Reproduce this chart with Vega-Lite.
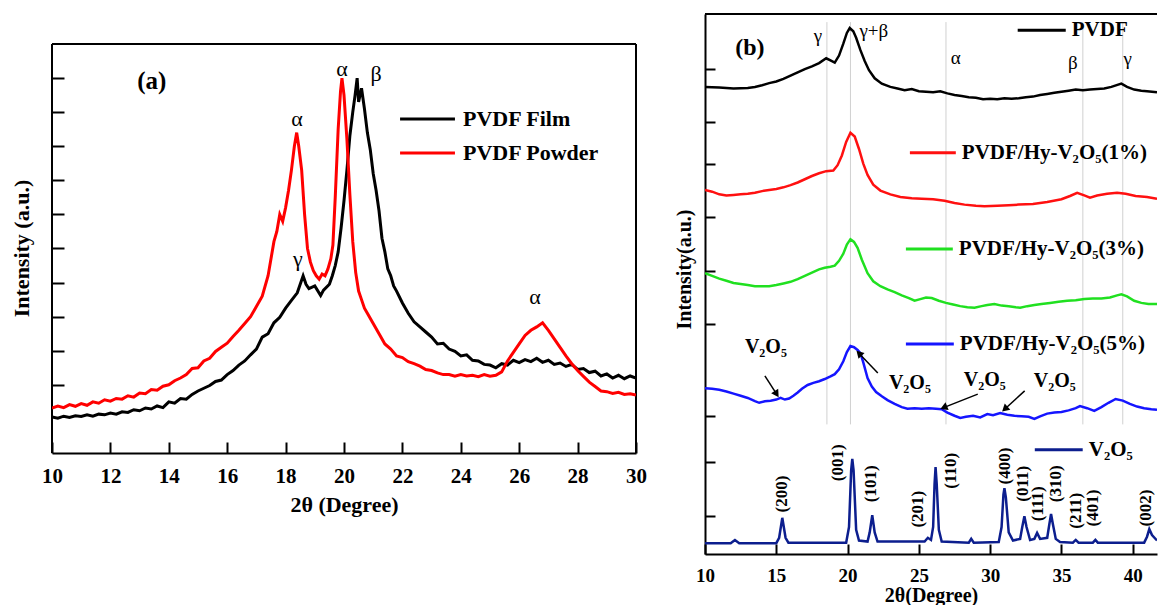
{
"$schema": "https://vega.github.io/schema/vega-lite/v6.json",
"background": "white",
"padding": {"left": 10, "top": 13, "right": 0, "bottom": 0},
"config": {
  "font": "Liberation Serif",
  "view": {"stroke": null},
  "axis": {"grid": false, "domainColor": "black", "tickColor": "black", "labelColor": "black", "titleColor": "black", "labelFont": "Liberation Serif", "titleFont": "Liberation Serif", "labelFontWeight": "bold", "titleFontWeight": "bold", "labelFlush": false},
  "concat": {"spacing": 27}
},
"resolve": {"scale": {"color": "independent"}},
"datasets": {
  "a": [
    {"series":"PVDF Film","x":10.0,"y":1.06},{"series":"PVDF Film","x":10.2,"y":1.02},{"series":"PVDF Film","x":10.4,"y":1.08},{"series":"PVDF Film","x":10.6,"y":1.04},{"series":"PVDF Film","x":10.8,"y":1.09},{"series":"PVDF Film","x":11.0,"y":1.07},{"series":"PVDF Film","x":11.2,"y":1.12},{"series":"PVDF Film","x":11.4,"y":1.08},{"series":"PVDF Film","x":11.6,"y":1.14},{"series":"PVDF Film","x":11.8,"y":1.12},{"series":"PVDF Film","x":12.0,"y":1.17},{"series":"PVDF Film","x":12.2,"y":1.14},{"series":"PVDF Film","x":12.4,"y":1.21},{"series":"PVDF Film","x":12.6,"y":1.19},{"series":"PVDF Film","x":12.8,"y":1.27},{"series":"PVDF Film","x":13.0,"y":1.24},{"series":"PVDF Film","x":13.2,"y":1.32},{"series":"PVDF Film","x":13.4,"y":1.29},{"series":"PVDF Film","x":13.6,"y":1.38},{"series":"PVDF Film","x":13.8,"y":1.33},{"series":"PVDF Film","x":14.0,"y":1.5},{"series":"PVDF Film","x":14.2,"y":1.46},{"series":"PVDF Film","x":14.4,"y":1.6},{"series":"PVDF Film","x":14.6,"y":1.58},{"series":"PVDF Film","x":14.8,"y":1.72},{"series":"PVDF Film","x":15.0,"y":1.82},{"series":"PVDF Film","x":15.2,"y":1.9},{"series":"PVDF Film","x":15.4,"y":1.98},{"series":"PVDF Film","x":15.6,"y":2.1},{"series":"PVDF Film","x":15.8,"y":2.14},{"series":"PVDF Film","x":16.0,"y":2.3},{"series":"PVDF Film","x":16.2,"y":2.42},{"series":"PVDF Film","x":16.4,"y":2.58},{"series":"PVDF Film","x":16.6,"y":2.7},{"series":"PVDF Film","x":16.8,"y":2.88},{"series":"PVDF Film","x":17.0,"y":3.05},{"series":"PVDF Film","x":17.2,"y":3.4},{"series":"PVDF Film","x":17.4,"y":3.5},{"series":"PVDF Film","x":17.6,"y":3.82},{"series":"PVDF Film","x":17.8,"y":3.98},{"series":"PVDF Film","x":18.0,"y":4.25},{"series":"PVDF Film","x":18.2,"y":4.48},{"series":"PVDF Film","x":18.4,"y":4.7},{"series":"PVDF Film","x":18.6,"y":5.2},{"series":"PVDF Film","x":18.7,"y":4.95},{"series":"PVDF Film","x":18.8,"y":4.82},{"series":"PVDF Film","x":19.0,"y":4.9},{"series":"PVDF Film","x":19.2,"y":4.62},{"series":"PVDF Film","x":19.3,"y":4.78},{"series":"PVDF Film","x":19.5,"y":4.95},{"series":"PVDF Film","x":19.6,"y":5.2},{"series":"PVDF Film","x":19.7,"y":5.5},{"series":"PVDF Film","x":19.8,"y":5.9},{"series":"PVDF Film","x":19.9,"y":6.6},{"series":"PVDF Film","x":20.0,"y":7.4},{"series":"PVDF Film","x":20.1,"y":8.3},{"series":"PVDF Film","x":20.2,"y":9.3},{"series":"PVDF Film","x":20.3,"y":10.0},{"series":"PVDF Film","x":20.38,"y":10.5},{"series":"PVDF Film","x":20.45,"y":11.0},{"series":"PVDF Film","x":20.5,"y":10.3},{"series":"PVDF Film","x":20.6,"y":10.7},{"series":"PVDF Film","x":20.7,"y":10.1},{"series":"PVDF Film","x":20.8,"y":9.4},{"series":"PVDF Film","x":20.9,"y":8.9},{"series":"PVDF Film","x":21.0,"y":8.2},{"series":"PVDF Film","x":21.1,"y":7.7},{"series":"PVDF Film","x":21.2,"y":7.1},{"series":"PVDF Film","x":21.3,"y":6.3},{"series":"PVDF Film","x":21.4,"y":5.9},{"series":"PVDF Film","x":21.5,"y":5.4},{"series":"PVDF Film","x":21.6,"y":5.2},{"series":"PVDF Film","x":21.7,"y":4.9},{"series":"PVDF Film","x":21.8,"y":4.75},{"series":"PVDF Film","x":22.0,"y":4.4},{"series":"PVDF Film","x":22.2,"y":4.1},{"series":"PVDF Film","x":22.4,"y":3.85},{"series":"PVDF Film","x":22.6,"y":3.7},{"series":"PVDF Film","x":22.8,"y":3.55},{"series":"PVDF Film","x":23.0,"y":3.4},{"series":"PVDF Film","x":23.2,"y":3.2},{"series":"PVDF Film","x":23.4,"y":3.22},{"series":"PVDF Film","x":23.6,"y":3.05},{"series":"PVDF Film","x":23.8,"y":2.98},{"series":"PVDF Film","x":24.0,"y":2.85},{"series":"PVDF Film","x":24.2,"y":2.88},{"series":"PVDF Film","x":24.4,"y":2.72},{"series":"PVDF Film","x":24.6,"y":2.7},{"series":"PVDF Film","x":24.8,"y":2.6},{"series":"PVDF Film","x":25.0,"y":2.58},{"series":"PVDF Film","x":25.2,"y":2.5},{"series":"PVDF Film","x":25.4,"y":2.62},{"series":"PVDF Film","x":25.6,"y":2.58},{"series":"PVDF Film","x":25.8,"y":2.72},{"series":"PVDF Film","x":26.0,"y":2.65},{"series":"PVDF Film","x":26.2,"y":2.74},{"series":"PVDF Film","x":26.4,"y":2.68},{"series":"PVDF Film","x":26.6,"y":2.78},{"series":"PVDF Film","x":26.8,"y":2.66},{"series":"PVDF Film","x":27.0,"y":2.72},{"series":"PVDF Film","x":27.2,"y":2.6},{"series":"PVDF Film","x":27.4,"y":2.64},{"series":"PVDF Film","x":27.6,"y":2.54},{"series":"PVDF Film","x":27.8,"y":2.6},{"series":"PVDF Film","x":28.0,"y":2.45},{"series":"PVDF Film","x":28.2,"y":2.48},{"series":"PVDF Film","x":28.4,"y":2.36},{"series":"PVDF Film","x":28.6,"y":2.4},{"series":"PVDF Film","x":28.8,"y":2.26},{"series":"PVDF Film","x":29.0,"y":2.32},{"series":"PVDF Film","x":29.2,"y":2.2},{"series":"PVDF Film","x":29.4,"y":2.28},{"series":"PVDF Film","x":29.6,"y":2.18},{"series":"PVDF Film","x":29.8,"y":2.26},{"series":"PVDF Film","x":30.0,"y":2.2},
    {"series":"PVDF Powder","x":10.0,"y":1.32},{"series":"PVDF Powder","x":10.2,"y":1.38},{"series":"PVDF Powder","x":10.4,"y":1.33},{"series":"PVDF Powder","x":10.6,"y":1.42},{"series":"PVDF Powder","x":10.8,"y":1.37},{"series":"PVDF Powder","x":11.0,"y":1.45},{"series":"PVDF Powder","x":11.2,"y":1.4},{"series":"PVDF Powder","x":11.4,"y":1.5},{"series":"PVDF Powder","x":11.6,"y":1.46},{"series":"PVDF Powder","x":11.8,"y":1.56},{"series":"PVDF Powder","x":12.0,"y":1.52},{"series":"PVDF Powder","x":12.2,"y":1.6},{"series":"PVDF Powder","x":12.4,"y":1.58},{"series":"PVDF Powder","x":12.6,"y":1.68},{"series":"PVDF Powder","x":12.8,"y":1.64},{"series":"PVDF Powder","x":13.0,"y":1.76},{"series":"PVDF Powder","x":13.2,"y":1.74},{"series":"PVDF Powder","x":13.4,"y":1.86},{"series":"PVDF Powder","x":13.6,"y":1.84},{"series":"PVDF Powder","x":13.8,"y":1.96},{"series":"PVDF Powder","x":14.0,"y":2.0},{"series":"PVDF Powder","x":14.2,"y":2.12},{"series":"PVDF Powder","x":14.4,"y":2.2},{"series":"PVDF Powder","x":14.6,"y":2.3},{"series":"PVDF Powder","x":14.8,"y":2.48},{"series":"PVDF Powder","x":15.0,"y":2.5},{"series":"PVDF Powder","x":15.2,"y":2.7},{"series":"PVDF Powder","x":15.4,"y":2.78},{"series":"PVDF Powder","x":15.6,"y":2.98},{"series":"PVDF Powder","x":15.8,"y":3.1},{"series":"PVDF Powder","x":16.0,"y":3.22},{"series":"PVDF Powder","x":16.2,"y":3.42},{"series":"PVDF Powder","x":16.4,"y":3.6},{"series":"PVDF Powder","x":16.6,"y":3.8},{"series":"PVDF Powder","x":16.8,"y":4.0},{"series":"PVDF Powder","x":17.0,"y":4.3},{"series":"PVDF Powder","x":17.2,"y":4.6},{"series":"PVDF Powder","x":17.4,"y":5.2},{"series":"PVDF Powder","x":17.6,"y":6.2},{"series":"PVDF Powder","x":17.7,"y":6.5},{"series":"PVDF Powder","x":17.8,"y":7.0},{"series":"PVDF Powder","x":17.9,"y":6.8},{"series":"PVDF Powder","x":18.0,"y":7.2},{"series":"PVDF Powder","x":18.1,"y":7.7},{"series":"PVDF Powder","x":18.2,"y":8.3},{"series":"PVDF Powder","x":18.3,"y":9.0},{"series":"PVDF Powder","x":18.38,"y":9.4},{"series":"PVDF Powder","x":18.45,"y":9.0},{"series":"PVDF Powder","x":18.55,"y":8.3},{"series":"PVDF Powder","x":18.65,"y":7.0},{"series":"PVDF Powder","x":18.75,"y":6.0},{"series":"PVDF Powder","x":18.85,"y":5.6},{"series":"PVDF Powder","x":18.95,"y":5.35},{"series":"PVDF Powder","x":19.05,"y":5.2},{"series":"PVDF Powder","x":19.15,"y":5.1},{"series":"PVDF Powder","x":19.25,"y":5.25},{"series":"PVDF Powder","x":19.35,"y":5.2},{"series":"PVDF Powder","x":19.45,"y":5.4},{"series":"PVDF Powder","x":19.55,"y":5.7},{"series":"PVDF Powder","x":19.62,"y":6.1},{"series":"PVDF Powder","x":19.7,"y":7.5},{"series":"PVDF Powder","x":19.8,"y":9.5},{"series":"PVDF Powder","x":19.88,"y":10.6},{"series":"PVDF Powder","x":19.93,"y":11.0},{"series":"PVDF Powder","x":20.0,"y":10.5},{"series":"PVDF Powder","x":20.1,"y":9.2},{"series":"PVDF Powder","x":20.2,"y":7.6},{"series":"PVDF Powder","x":20.3,"y":6.2},{"series":"PVDF Powder","x":20.4,"y":5.3},{"series":"PVDF Powder","x":20.5,"y":4.75},{"series":"PVDF Powder","x":20.6,"y":4.5},{"series":"PVDF Powder","x":20.7,"y":4.25},{"series":"PVDF Powder","x":20.8,"y":4.1},{"series":"PVDF Powder","x":21.0,"y":3.8},{"series":"PVDF Powder","x":21.2,"y":3.5},{"series":"PVDF Powder","x":21.4,"y":3.2},{"series":"PVDF Powder","x":21.6,"y":3.05},{"series":"PVDF Powder","x":21.8,"y":2.85},{"series":"PVDF Powder","x":22.0,"y":2.8},{"series":"PVDF Powder","x":22.2,"y":2.68},{"series":"PVDF Powder","x":22.4,"y":2.62},{"series":"PVDF Powder","x":22.6,"y":2.55},{"series":"PVDF Powder","x":22.8,"y":2.45},{"series":"PVDF Powder","x":23.0,"y":2.42},{"series":"PVDF Powder","x":23.2,"y":2.35},{"series":"PVDF Powder","x":23.4,"y":2.3},{"series":"PVDF Powder","x":23.6,"y":2.3},{"series":"PVDF Powder","x":23.8,"y":2.25},{"series":"PVDF Powder","x":24.0,"y":2.3},{"series":"PVDF Powder","x":24.2,"y":2.26},{"series":"PVDF Powder","x":24.4,"y":2.28},{"series":"PVDF Powder","x":24.6,"y":2.24},{"series":"PVDF Powder","x":24.8,"y":2.3},{"series":"PVDF Powder","x":25.0,"y":2.25},{"series":"PVDF Powder","x":25.2,"y":2.28},{"series":"PVDF Powder","x":25.4,"y":2.38},{"series":"PVDF Powder","x":25.6,"y":2.7},{"series":"PVDF Powder","x":25.8,"y":2.95},{"series":"PVDF Powder","x":26.0,"y":3.2},{"series":"PVDF Powder","x":26.2,"y":3.45},{"series":"PVDF Powder","x":26.4,"y":3.6},{"series":"PVDF Powder","x":26.6,"y":3.7},{"series":"PVDF Powder","x":26.8,"y":3.82},{"series":"PVDF Powder","x":27.0,"y":3.6},{"series":"PVDF Powder","x":27.2,"y":3.35},{"series":"PVDF Powder","x":27.4,"y":3.1},{"series":"PVDF Powder","x":27.6,"y":2.85},{"series":"PVDF Powder","x":27.8,"y":2.62},{"series":"PVDF Powder","x":28.0,"y":2.42},{"series":"PVDF Powder","x":28.2,"y":2.25},{"series":"PVDF Powder","x":28.4,"y":2.08},{"series":"PVDF Powder","x":28.6,"y":1.95},{"series":"PVDF Powder","x":28.8,"y":1.82},{"series":"PVDF Powder","x":29.0,"y":1.8},{"series":"PVDF Powder","x":29.2,"y":1.75},{"series":"PVDF Powder","x":29.4,"y":1.78},{"series":"PVDF Powder","x":29.6,"y":1.72},{"series":"PVDF Powder","x":29.8,"y":1.74},{"series":"PVDF Powder","x":30.0,"y":1.7}
  ],
  "b": [
    {"series":"PVDF","x":10,"y":86.5},{"series":"PVDF","x":11,"y":86.4},{"series":"PVDF","x":12,"y":86.2},{"series":"PVDF","x":13,"y":86.3},{"series":"PVDF","x":13.5,"y":86.5},{"series":"PVDF","x":14,"y":86.8},{"series":"PVDF","x":14.5,"y":87.2},{"series":"PVDF","x":15,"y":87.5},{"series":"PVDF","x":15.5,"y":88.0},{"series":"PVDF","x":16,"y":88.6},{"series":"PVDF","x":16.5,"y":89.2},{"series":"PVDF","x":17,"y":89.8},{"series":"PVDF","x":17.5,"y":90.3},{"series":"PVDF","x":18,"y":90.9},{"series":"PVDF","x":18.5,"y":91.8},{"series":"PVDF","x":18.8,"y":91.4},{"series":"PVDF","x":19.1,"y":91.0},{"series":"PVDF","x":19.4,"y":92.3},{"series":"PVDF","x":19.7,"y":94.5},{"series":"PVDF","x":19.95,"y":96.5},{"series":"PVDF","x":20.15,"y":97.4},{"series":"PVDF","x":20.4,"y":96.8},{"series":"PVDF","x":20.6,"y":95.6},{"series":"PVDF","x":20.9,"y":93.3},{"series":"PVDF","x":21.2,"y":91.3},{"series":"PVDF","x":21.5,"y":89.6},{"series":"PVDF","x":21.9,"y":88.1},{"series":"PVDF","x":22.4,"y":87.1},{"series":"PVDF","x":23.0,"y":86.5},{"series":"PVDF","x":23.5,"y":86.2},{"series":"PVDF","x":24,"y":85.9},{"series":"PVDF","x":24.5,"y":86.1},{"series":"PVDF","x":25,"y":85.7},{"series":"PVDF","x":25.5,"y":85.6},{"series":"PVDF","x":26,"y":85.5},{"series":"PVDF","x":26.5,"y":85.7},{"series":"PVDF","x":27,"y":85.3},{"series":"PVDF","x":27.5,"y":85.0},{"series":"PVDF","x":28,"y":84.8},{"series":"PVDF","x":28.5,"y":84.6},{"series":"PVDF","x":29,"y":84.5},{"series":"PVDF","x":29.5,"y":84.2},{"series":"PVDF","x":30,"y":84.3},{"series":"PVDF","x":30.5,"y":84.2},{"series":"PVDF","x":31,"y":84.4},{"series":"PVDF","x":31.5,"y":84.3},{"series":"PVDF","x":32,"y":84.4},{"series":"PVDF","x":32.5,"y":84.6},{"series":"PVDF","x":33,"y":84.7},{"series":"PVDF","x":33.5,"y":85.0},{"series":"PVDF","x":34,"y":85.2},{"series":"PVDF","x":34.5,"y":85.4},{"series":"PVDF","x":35,"y":85.6},{"series":"PVDF","x":35.5,"y":85.8},{"series":"PVDF","x":36,"y":86.0},{"series":"PVDF","x":36.5,"y":85.9},{"series":"PVDF","x":37,"y":86.0},{"series":"PVDF","x":37.5,"y":86.1},{"series":"PVDF","x":38,"y":86.2},{"series":"PVDF","x":38.5,"y":86.5},{"series":"PVDF","x":39.2,"y":87.1},{"series":"PVDF","x":39.6,"y":86.5},{"series":"PVDF","x":40.1,"y":86.0},{"series":"PVDF","x":40.6,"y":85.8},{"series":"PVDF","x":41,"y":85.7},{"series":"PVDF","x":41.7,"y":85.5},
    {"series":"PVDF/Hy-V₂O₅(1%)","x":10,"y":67.4},{"series":"PVDF/Hy-V₂O₅(1%)","x":10.5,"y":67.1},{"series":"PVDF/Hy-V₂O₅(1%)","x":11,"y":66.6},{"series":"PVDF/Hy-V₂O₅(1%)","x":11.5,"y":66.4},{"series":"PVDF/Hy-V₂O₅(1%)","x":12,"y":66.5},{"series":"PVDF/Hy-V₂O₅(1%)","x":12.5,"y":66.6},{"series":"PVDF/Hy-V₂O₅(1%)","x":13,"y":66.7},{"series":"PVDF/Hy-V₂O₅(1%)","x":13.5,"y":66.9},{"series":"PVDF/Hy-V₂O₅(1%)","x":14,"y":67.2},{"series":"PVDF/Hy-V₂O₅(1%)","x":14.5,"y":67.4},{"series":"PVDF/Hy-V₂O₅(1%)","x":15,"y":67.6},{"series":"PVDF/Hy-V₂O₅(1%)","x":15.5,"y":67.9},{"series":"PVDF/Hy-V₂O₅(1%)","x":16,"y":68.3},{"series":"PVDF/Hy-V₂O₅(1%)","x":16.5,"y":68.8},{"series":"PVDF/Hy-V₂O₅(1%)","x":17,"y":69.4},{"series":"PVDF/Hy-V₂O₅(1%)","x":17.5,"y":70.0},{"series":"PVDF/Hy-V₂O₅(1%)","x":18,"y":70.5},{"series":"PVDF/Hy-V₂O₅(1%)","x":18.5,"y":70.9},{"series":"PVDF/Hy-V₂O₅(1%)","x":19,"y":71.0},{"series":"PVDF/Hy-V₂O₅(1%)","x":19.3,"y":72.0},{"series":"PVDF/Hy-V₂O₅(1%)","x":19.6,"y":73.8},{"series":"PVDF/Hy-V₂O₅(1%)","x":19.9,"y":76.3},{"series":"PVDF/Hy-V₂O₅(1%)","x":20.2,"y":78.0},{"series":"PVDF/Hy-V₂O₅(1%)","x":20.5,"y":77.3},{"series":"PVDF/Hy-V₂O₅(1%)","x":20.8,"y":75.0},{"series":"PVDF/Hy-V₂O₅(1%)","x":21.1,"y":72.3},{"series":"PVDF/Hy-V₂O₅(1%)","x":21.4,"y":70.2},{"series":"PVDF/Hy-V₂O₅(1%)","x":21.8,"y":68.4},{"series":"PVDF/Hy-V₂O₅(1%)","x":22.3,"y":67.3},{"series":"PVDF/Hy-V₂O₅(1%)","x":23,"y":66.6},{"series":"PVDF/Hy-V₂O₅(1%)","x":23.7,"y":66.1},{"series":"PVDF/Hy-V₂O₅(1%)","x":24.5,"y":65.9},{"series":"PVDF/Hy-V₂O₅(1%)","x":25.2,"y":65.8},{"series":"PVDF/Hy-V₂O₅(1%)","x":26,"y":65.7},{"series":"PVDF/Hy-V₂O₅(1%)","x":26.8,"y":65.4},{"series":"PVDF/Hy-V₂O₅(1%)","x":27.5,"y":65.0},{"series":"PVDF/Hy-V₂O₅(1%)","x":28.2,"y":64.7},{"series":"PVDF/Hy-V₂O₅(1%)","x":29,"y":64.5},{"series":"PVDF/Hy-V₂O₅(1%)","x":29.6,"y":64.4},{"series":"PVDF/Hy-V₂O₅(1%)","x":30.5,"y":64.5},{"series":"PVDF/Hy-V₂O₅(1%)","x":31.3,"y":64.6},{"series":"PVDF/Hy-V₂O₅(1%)","x":32,"y":64.7},{"series":"PVDF/Hy-V₂O₅(1%)","x":33,"y":64.8},{"series":"PVDF/Hy-V₂O₅(1%)","x":34,"y":65.2},{"series":"PVDF/Hy-V₂O₅(1%)","x":35,"y":65.7},{"series":"PVDF/Hy-V₂O₅(1%)","x":35.6,"y":66.3},{"series":"PVDF/Hy-V₂O₅(1%)","x":36.1,"y":66.9},{"series":"PVDF/Hy-V₂O₅(1%)","x":36.6,"y":66.4},{"series":"PVDF/Hy-V₂O₅(1%)","x":37,"y":66.0},{"series":"PVDF/Hy-V₂O₅(1%)","x":37.5,"y":66.4},{"series":"PVDF/Hy-V₂O₅(1%)","x":38.2,"y":66.7},{"series":"PVDF/Hy-V₂O₅(1%)","x":38.9,"y":66.9},{"series":"PVDF/Hy-V₂O₅(1%)","x":39.5,"y":66.7},{"series":"PVDF/Hy-V₂O₅(1%)","x":40.2,"y":66.3},{"series":"PVDF/Hy-V₂O₅(1%)","x":41,"y":66.1},{"series":"PVDF/Hy-V₂O₅(1%)","x":41.7,"y":65.8},
    {"series":"PVDF/Hy-V₂O₅(3%)","x":10,"y":52.0},{"series":"PVDF/Hy-V₂O₅(3%)","x":10.5,"y":51.5},{"series":"PVDF/Hy-V₂O₅(3%)","x":11,"y":51.0},{"series":"PVDF/Hy-V₂O₅(3%)","x":11.5,"y":50.6},{"series":"PVDF/Hy-V₂O₅(3%)","x":12,"y":50.2},{"series":"PVDF/Hy-V₂O₅(3%)","x":12.5,"y":50.0},{"series":"PVDF/Hy-V₂O₅(3%)","x":13,"y":49.8},{"series":"PVDF/Hy-V₂O₅(3%)","x":13.5,"y":49.6},{"series":"PVDF/Hy-V₂O₅(3%)","x":14,"y":49.6},{"series":"PVDF/Hy-V₂O₅(3%)","x":14.5,"y":49.6},{"series":"PVDF/Hy-V₂O₅(3%)","x":15,"y":49.8},{"series":"PVDF/Hy-V₂O₅(3%)","x":15.5,"y":50.1},{"series":"PVDF/Hy-V₂O₅(3%)","x":16,"y":50.4},{"series":"PVDF/Hy-V₂O₅(3%)","x":16.5,"y":50.9},{"series":"PVDF/Hy-V₂O₅(3%)","x":17,"y":51.5},{"series":"PVDF/Hy-V₂O₅(3%)","x":17.5,"y":52.1},{"series":"PVDF/Hy-V₂O₅(3%)","x":18,"y":52.7},{"series":"PVDF/Hy-V₂O₅(3%)","x":18.4,"y":53.0},{"series":"PVDF/Hy-V₂O₅(3%)","x":18.8,"y":53.2},{"series":"PVDF/Hy-V₂O₅(3%)","x":19.1,"y":53.4},{"series":"PVDF/Hy-V₂O₅(3%)","x":19.4,"y":54.3},{"series":"PVDF/Hy-V₂O₅(3%)","x":19.7,"y":55.6},{"series":"PVDF/Hy-V₂O₅(3%)","x":19.95,"y":57.3},{"series":"PVDF/Hy-V₂O₅(3%)","x":20.2,"y":58.3},{"series":"PVDF/Hy-V₂O₅(3%)","x":20.45,"y":57.8},{"series":"PVDF/Hy-V₂O₅(3%)","x":20.7,"y":56.7},{"series":"PVDF/Hy-V₂O₅(3%)","x":21.0,"y":54.5},{"series":"PVDF/Hy-V₂O₅(3%)","x":21.4,"y":52.0},{"series":"PVDF/Hy-V₂O₅(3%)","x":21.8,"y":50.5},{"series":"PVDF/Hy-V₂O₅(3%)","x":22.3,"y":49.6},{"series":"PVDF/Hy-V₂O₅(3%)","x":22.8,"y":49.0},{"series":"PVDF/Hy-V₂O₅(3%)","x":23.3,"y":48.5},{"series":"PVDF/Hy-V₂O₅(3%)","x":23.8,"y":47.9},{"series":"PVDF/Hy-V₂O₅(3%)","x":24.3,"y":47.4},{"series":"PVDF/Hy-V₂O₅(3%)","x":24.7,"y":46.9},{"series":"PVDF/Hy-V₂O₅(3%)","x":25.1,"y":47.2},{"series":"PVDF/Hy-V₂O₅(3%)","x":25.5,"y":47.5},{"series":"PVDF/Hy-V₂O₅(3%)","x":25.9,"y":47.4},{"series":"PVDF/Hy-V₂O₅(3%)","x":26.4,"y":46.9},{"series":"PVDF/Hy-V₂O₅(3%)","x":26.9,"y":46.5},{"series":"PVDF/Hy-V₂O₅(3%)","x":27.4,"y":46.2},{"series":"PVDF/Hy-V₂O₅(3%)","x":27.9,"y":45.9},{"series":"PVDF/Hy-V₂O₅(3%)","x":28.4,"y":45.7},{"series":"PVDF/Hy-V₂O₅(3%)","x":28.9,"y":45.6},{"series":"PVDF/Hy-V₂O₅(3%)","x":29.4,"y":45.9},{"series":"PVDF/Hy-V₂O₅(3%)","x":29.8,"y":46.1},{"series":"PVDF/Hy-V₂O₅(3%)","x":30.3,"y":46.3},{"series":"PVDF/Hy-V₂O₅(3%)","x":30.8,"y":46.0},{"series":"PVDF/Hy-V₂O₅(3%)","x":31.3,"y":45.9},{"series":"PVDF/Hy-V₂O₅(3%)","x":31.8,"y":45.7},{"series":"PVDF/Hy-V₂O₅(3%)","x":32.1,"y":45.6},{"series":"PVDF/Hy-V₂O₅(3%)","x":32.6,"y":45.9},{"series":"PVDF/Hy-V₂O₅(3%)","x":33.1,"y":46.1},{"series":"PVDF/Hy-V₂O₅(3%)","x":33.6,"y":46.3},{"series":"PVDF/Hy-V₂O₅(3%)","x":34.2,"y":46.5},{"series":"PVDF/Hy-V₂O₅(3%)","x":34.8,"y":46.7},{"series":"PVDF/Hy-V₂O₅(3%)","x":35.4,"y":46.9},{"series":"PVDF/Hy-V₂O₅(3%)","x":36.0,"y":47.0},{"series":"PVDF/Hy-V₂O₅(3%)","x":36.6,"y":47.2},{"series":"PVDF/Hy-V₂O₅(3%)","x":37.2,"y":47.3},{"series":"PVDF/Hy-V₂O₅(3%)","x":37.8,"y":47.3},{"series":"PVDF/Hy-V₂O₅(3%)","x":38.4,"y":47.5},{"series":"PVDF/Hy-V₂O₅(3%)","x":38.9,"y":47.9},{"series":"PVDF/Hy-V₂O₅(3%)","x":39.2,"y":48.1},{"series":"PVDF/Hy-V₂O₅(3%)","x":39.6,"y":47.7},{"series":"PVDF/Hy-V₂O₅(3%)","x":40.1,"y":46.9},{"series":"PVDF/Hy-V₂O₅(3%)","x":40.6,"y":46.5},{"series":"PVDF/Hy-V₂O₅(3%)","x":41.1,"y":46.3},{"series":"PVDF/Hy-V₂O₅(3%)","x":41.7,"y":46.3},
    {"series":"PVDF/Hy-V₂O₅(5%)","x":10,"y":30.7},{"series":"PVDF/Hy-V₂O₅(5%)","x":10.5,"y":30.6},{"series":"PVDF/Hy-V₂O₅(5%)","x":11,"y":30.4},{"series":"PVDF/Hy-V₂O₅(5%)","x":11.5,"y":30.1},{"series":"PVDF/Hy-V₂O₅(5%)","x":12,"y":29.7},{"series":"PVDF/Hy-V₂O₅(5%)","x":12.5,"y":29.3},{"series":"PVDF/Hy-V₂O₅(5%)","x":13,"y":28.9},{"series":"PVDF/Hy-V₂O₅(5%)","x":13.5,"y":28.3},{"series":"PVDF/Hy-V₂O₅(5%)","x":13.8,"y":28.0},{"series":"PVDF/Hy-V₂O₅(5%)","x":14.2,"y":28.3},{"series":"PVDF/Hy-V₂O₅(5%)","x":14.6,"y":28.4},{"series":"PVDF/Hy-V₂O₅(5%)","x":15,"y":28.6},{"series":"PVDF/Hy-V₂O₅(5%)","x":15.3,"y":28.9},{"series":"PVDF/Hy-V₂O₅(5%)","x":15.6,"y":28.6},{"series":"PVDF/Hy-V₂O₅(5%)","x":15.9,"y":28.8},{"series":"PVDF/Hy-V₂O₅(5%)","x":16.2,"y":29.3},{"series":"PVDF/Hy-V₂O₅(5%)","x":16.5,"y":29.9},{"series":"PVDF/Hy-V₂O₅(5%)","x":16.8,"y":30.6},{"series":"PVDF/Hy-V₂O₅(5%)","x":17.2,"y":31.3},{"series":"PVDF/Hy-V₂O₅(5%)","x":17.6,"y":31.7},{"series":"PVDF/Hy-V₂O₅(5%)","x":18,"y":32.0},{"series":"PVDF/Hy-V₂O₅(5%)","x":18.4,"y":32.4},{"series":"PVDF/Hy-V₂O₅(5%)","x":18.8,"y":32.9},{"series":"PVDF/Hy-V₂O₅(5%)","x":19.1,"y":33.3},{"series":"PVDF/Hy-V₂O₅(5%)","x":19.4,"y":34.2},{"series":"PVDF/Hy-V₂O₅(5%)","x":19.7,"y":35.7},{"series":"PVDF/Hy-V₂O₅(5%)","x":19.95,"y":37.4},{"series":"PVDF/Hy-V₂O₅(5%)","x":20.2,"y":38.5},{"series":"PVDF/Hy-V₂O₅(5%)","x":20.45,"y":38.3},{"series":"PVDF/Hy-V₂O₅(5%)","x":20.7,"y":37.8},{"series":"PVDF/Hy-V₂O₅(5%)","x":20.9,"y":37.2},{"series":"PVDF/Hy-V₂O₅(5%)","x":21.1,"y":35.5},{"series":"PVDF/Hy-V₂O₅(5%)","x":21.4,"y":32.6},{"series":"PVDF/Hy-V₂O₅(5%)","x":21.7,"y":31.0},{"series":"PVDF/Hy-V₂O₅(5%)","x":22,"y":30.0},{"series":"PVDF/Hy-V₂O₅(5%)","x":22.4,"y":29.2},{"series":"PVDF/Hy-V₂O₅(5%)","x":22.8,"y":28.5},{"series":"PVDF/Hy-V₂O₅(5%)","x":23.3,"y":27.8},{"series":"PVDF/Hy-V₂O₅(5%)","x":23.8,"y":27.2},{"series":"PVDF/Hy-V₂O₅(5%)","x":24.2,"y":26.9},{"series":"PVDF/Hy-V₂O₅(5%)","x":24.7,"y":27.0},{"series":"PVDF/Hy-V₂O₅(5%)","x":25.2,"y":26.9},{"series":"PVDF/Hy-V₂O₅(5%)","x":25.7,"y":27.0},{"series":"PVDF/Hy-V₂O₅(5%)","x":26.2,"y":26.9},{"series":"PVDF/Hy-V₂O₅(5%)","x":26.6,"y":26.8},{"series":"PVDF/Hy-V₂O₅(5%)","x":27.0,"y":26.2},{"series":"PVDF/Hy-V₂O₅(5%)","x":27.5,"y":25.6},{"series":"PVDF/Hy-V₂O₅(5%)","x":27.9,"y":25.2},{"series":"PVDF/Hy-V₂O₅(5%)","x":28.3,"y":25.4},{"series":"PVDF/Hy-V₂O₅(5%)","x":28.8,"y":25.6},{"series":"PVDF/Hy-V₂O₅(5%)","x":29.3,"y":25.3},{"series":"PVDF/Hy-V₂O₅(5%)","x":29.8,"y":25.9},{"series":"PVDF/Hy-V₂O₅(5%)","x":30.2,"y":25.7},{"series":"PVDF/Hy-V₂O₅(5%)","x":30.7,"y":26.1},{"series":"PVDF/Hy-V₂O₅(5%)","x":31.2,"y":25.8},{"series":"PVDF/Hy-V₂O₅(5%)","x":31.7,"y":25.6},{"series":"PVDF/Hy-V₂O₅(5%)","x":32.2,"y":25.5},{"series":"PVDF/Hy-V₂O₅(5%)","x":32.7,"y":25.4},{"series":"PVDF/Hy-V₂O₅(5%)","x":33.1,"y":25.0},{"series":"PVDF/Hy-V₂O₅(5%)","x":33.5,"y":25.5},{"series":"PVDF/Hy-V₂O₅(5%)","x":34.0,"y":26.0},{"series":"PVDF/Hy-V₂O₅(5%)","x":34.5,"y":26.2},{"series":"PVDF/Hy-V₂O₅(5%)","x":35.0,"y":26.3},{"series":"PVDF/Hy-V₂O₅(5%)","x":35.5,"y":26.6},{"series":"PVDF/Hy-V₂O₅(5%)","x":36.0,"y":27.0},{"series":"PVDF/Hy-V₂O₅(5%)","x":36.3,"y":27.4},{"series":"PVDF/Hy-V₂O₅(5%)","x":36.8,"y":27.0},{"series":"PVDF/Hy-V₂O₅(5%)","x":37.3,"y":26.5},{"series":"PVDF/Hy-V₂O₅(5%)","x":37.8,"y":27.2},{"series":"PVDF/Hy-V₂O₅(5%)","x":38.3,"y":28.0},{"series":"PVDF/Hy-V₂O₅(5%)","x":38.8,"y":28.7},{"series":"PVDF/Hy-V₂O₅(5%)","x":39.3,"y":28.4},{"series":"PVDF/Hy-V₂O₅(5%)","x":39.8,"y":27.8},{"series":"PVDF/Hy-V₂O₅(5%)","x":40.3,"y":27.3},{"series":"PVDF/Hy-V₂O₅(5%)","x":40.8,"y":27.0},{"series":"PVDF/Hy-V₂O₅(5%)","x":41.3,"y":26.8},{"series":"PVDF/Hy-V₂O₅(5%)","x":41.7,"y":26.7},
    {"series":"V₂O₅","x":10,"y":2.0},{"series":"V₂O₅","x":11.8,"y":2.0},{"series":"V₂O₅","x":12.1,"y":2.6},{"series":"V₂O₅","x":12.4,"y":2.0},{"series":"V₂O₅","x":15.0,"y":2.0},{"series":"V₂O₅","x":15.2,"y":3.0},{"series":"V₂O₅","x":15.42,"y":6.7},{"series":"V₂O₅","x":15.65,"y":3.0},{"series":"V₂O₅","x":15.85,"y":2.1},{"series":"V₂O₅","x":19.9,"y":2.1},{"series":"V₂O₅","x":20.1,"y":5.0},{"series":"V₂O₅","x":20.25,"y":15.5},{"series":"V₂O₅","x":20.33,"y":17.6},{"series":"V₂O₅","x":20.42,"y":15.5},{"series":"V₂O₅","x":20.6,"y":4.5},{"series":"V₂O₅","x":20.8,"y":2.5},{"series":"V₂O₅","x":21.4,"y":2.3},{"series":"V₂O₅","x":21.55,"y":4.0},{"series":"V₂O₅","x":21.73,"y":7.2},{"series":"V₂O₅","x":21.9,"y":4.0},{"series":"V₂O₅","x":22.1,"y":2.3},{"series":"V₂O₅","x":25.4,"y":2.3},{"series":"V₂O₅","x":25.63,"y":3.0},{"series":"V₂O₅","x":25.85,"y":2.6},{"series":"V₂O₅","x":26.0,"y":5.0},{"series":"V₂O₅","x":26.1,"y":13.0},{"series":"V₂O₅","x":26.17,"y":16.1},{"series":"V₂O₅","x":26.25,"y":13.0},{"series":"V₂O₅","x":26.4,"y":4.5},{"series":"V₂O₅","x":26.6,"y":2.3},{"series":"V₂O₅","x":28.5,"y":2.1},{"series":"V₂O₅","x":28.67,"y":2.8},{"series":"V₂O₅","x":28.85,"y":2.1},{"series":"V₂O₅","x":30.6,"y":2.2},{"series":"V₂O₅","x":30.8,"y":5.0},{"series":"V₂O₅","x":30.93,"y":11.0},{"series":"V₂O₅","x":31.0,"y":12.2},{"series":"V₂O₅","x":31.1,"y":10.5},{"series":"V₂O₅","x":31.3,"y":4.0},{"series":"V₂O₅","x":31.6,"y":2.5},{"series":"V₂O₅","x":32.1,"y":2.8},{"series":"V₂O₅","x":32.25,"y":5.0},{"series":"V₂O₅","x":32.4,"y":7.0},{"series":"V₂O₅","x":32.55,"y":5.0},{"series":"V₂O₅","x":32.8,"y":2.6},{"series":"V₂O₅","x":33.1,"y":2.8},{"series":"V₂O₅","x":33.29,"y":3.9},{"series":"V₂O₅","x":33.5,"y":2.8},{"series":"V₂O₅","x":34.0,"y":3.0},{"series":"V₂O₅","x":34.15,"y":5.5},{"series":"V₂O₅","x":34.27,"y":7.4},{"series":"V₂O₅","x":34.4,"y":5.5},{"series":"V₂O₅","x":34.6,"y":2.8},{"series":"V₂O₅","x":34.9,"y":2.2},{"series":"V₂O₅","x":35.8,"y":2.1},{"series":"V₂O₅","x":36.0,"y":2.6},{"series":"V₂O₅","x":36.2,"y":2.1},{"series":"V₂O₅","x":37.2,"y":2.1},{"series":"V₂O₅","x":37.38,"y":2.6},{"series":"V₂O₅","x":37.55,"y":2.1},{"series":"V₂O₅","x":40.8,"y":2.1},{"series":"V₂O₅","x":41.0,"y":3.2},{"series":"V₂O₅","x":41.16,"y":4.6},{"series":"V₂O₅","x":41.35,"y":3.5},{"series":"V₂O₅","x":41.7,"y":2.5}
  ]
},
"hconcat": [
  {
    "width": 584, "height": 439,
    "layer": [
      {
        "data": {"values": [{"edge": "top"}]},
        "mark": {"type": "rule", "color": "black", "strokeWidth": 2},
        "encoding": {"y": {"datum": 12}}
      },
      {
        "data": {"values": [{"edge": "left", "x": 10}, {"edge": "right", "x": 30}]},
        "mark": {"type": "rule", "color": "black", "strokeWidth": 2},
        "encoding": {"x": {"field": "x", "type": "quantitative"}, "y": {"datum": 0}, "y2": {"datum": 12}}
      },
      {
        "data": {"name": "a"},
        "mark": {"type": "line", "strokeWidth": 3, "clip": true},
        "encoding": {
          "x": {"field": "x", "type": "quantitative", "scale": {"domain": [10, 30], "nice": false, "zero": false},
            "axis": {"values": [10,11,12,13,14,15,16,17,18,19,20,21,22,23,24,25,26,27,28,29,30],
              "tickSize": {"condition": {"test": "datum.value % 2 !== 0", "value": -6}, "value": -11},
              "tickWidth": 2, "domainWidth": 2,
              "labelExpr": "datum.value % 2 === 0 ? datum.label : ''",
              "labelFontSize": 21, "labelPadding": 23,
              "title": "2θ (Degree)", "titleFontSize": 22, "titlePadding": 8}},
          "y": {"field": "y", "type": "quantitative", "scale": {"domain": [0, 12.88], "nice": false},
            "axis": {"values": [2,3,4,5,6,7,8,9,10,11], "tickSize": -12, "tickWidth": 2, "domain": false, "labels": false,
              "title": "Intensity (a.u.)", "titleFontSize": 22, "titlePadding": 18, "titleY": 234}},
          "color": {"field": "series", "type": "nominal", "scale": {"domain": ["PVDF Film", "PVDF Powder"], "range": ["#000000", "#ff0000"]}, "legend": null}
        }
      },
      {
        "data": {"values": [{"label": "α", "x": 18.39, "y": 9.8}, {"label": "α", "x": 19.93, "y": 11.27}, {"label": "β", "x": 21.1, "y": 11.12}, {"label": "γ", "x": 18.42, "y": 5.69}, {"label": "α", "x": 26.54, "y": 4.58}]},
        "mark": {"type": "text", "fontSize": 22, "font": "Liberation Serif", "color": "black"},
        "encoding": {"x": {"field": "x", "type": "quantitative"}, "y": {"field": "y", "type": "quantitative"}, "text": {"field": "label"}}
      },
      {
        "data": {"values": [{"label": "(a)", "x": 13.42, "y": 10.9}]},
        "mark": {"type": "text", "fontSize": 25, "fontWeight": "bold", "font": "Liberation Serif", "color": "black"},
        "encoding": {"x": {"field": "x", "type": "quantitative"}, "y": {"field": "y", "type": "quantitative"}, "text": {"field": "label"}}
      },
      {
        "data": {"values": [{"series": "PVDF Film", "x": 21.92, "x2": 23.8, "y": 9.8}, {"series": "PVDF Powder", "x": 21.92, "x2": 23.8, "y": 8.8}]},
        "layer": [
          {"mark": {"type": "rule", "strokeWidth": 3},
           "encoding": {"x": {"field": "x", "type": "quantitative"}, "x2": {"field": "x2"}, "y": {"field": "y", "type": "quantitative"}, "color": {"field": "series", "type": "nominal", "legend": null}}},
          {"mark": {"type": "text", "align": "left", "dx": 8, "fontSize": 22, "fontWeight": "bold", "font": "Liberation Serif", "color": "black"},
           "encoding": {"x": {"field": "x2", "type": "quantitative"}, "y": {"field": "y", "type": "quantitative"}, "text": {"field": "series"}}}
        ]
      }
    ]
  },
  {
    "width": 452, "height": 540,
    "layer": [
      {
        "data": {"values": [{"x": 18.55}, {"x": 20.2}, {"x": 26.9}, {"x": 36.5}, {"x": 39.3}]},
        "mark": {"type": "rule", "color": "#d0d0d0", "strokeWidth": 1},
        "encoding": {"x": {"field": "x", "type": "quantitative"}, "y": {"datum": 98.5}, "y2": {"datum": 24}}
      },
      {
        "data": {"values": [{"edge": "top"}]},
        "mark": {"type": "rule", "color": "black", "strokeWidth": 2},
        "encoding": {"y": {"datum": 100}}
      },
      {
        "data": {"name": "b"},
        "mark": {"type": "line", "strokeWidth": 2.5, "clip": true},
        "encoding": {
          "x": {"field": "x", "type": "quantitative", "scale": {"domain": [10, 41.7], "nice": false, "zero": false},
            "axis": {"values": [10,15,20,25,30,35,40], "tickSize": -10, "tickWidth": 2, "domainWidth": 2,
              "labelFontSize": 19, "labelPadding": 22, "title": "2θ(Degree)", "titleFontSize": 20, "titlePadding": 0}},
          "y": {"field": "y", "type": "quantitative", "scale": {"domain": [0, 100], "nice": false},
            "axis": {"values": [7,12,17,20.4,25.6,35.4,42.6,47.4,52.4,57.6,62.4,67.2,72.2,77,80,85,89.8,94.8], "tickSize": -10, "tickWidth": 2, "domainWidth": 2, "labels": false,
              "title": "Intensity(a.u.)", "titleFontSize": 20, "titlePadding": 10, "titleY": 255}},
          "color": {"field": "series", "type": "nominal", "scale": {"domain": ["PVDF", "PVDF/Hy-V₂O₅(1%)", "PVDF/Hy-V₂O₅(3%)", "PVDF/Hy-V₂O₅(5%)", "V₂O₅"], "range": ["#000000", "#ff1010", "#20e020", "#1515ff", "#0c1e8e"]}, "legend": null}
        }
      },
      {
        "data": {"values": [{"label": "(200)", "x": 15.4, "y": 11.1}, {"label": "(001)", "x": 19.32, "y": 16.9}, {"label": "(101)", "x": 21.63, "y": 13.0}, {"label": "(201)", "x": 24.93, "y": 8.3}, {"label": "(110)", "x": 27.24, "y": 15.4}, {"label": "(400)", "x": 31.02, "y": 16.3}, {"label": "(011)", "x": 32.28, "y": 13.0}, {"label": "(111)", "x": 33.34, "y": 9.3}, {"label": "(310)", "x": 34.6, "y": 13.0}, {"label": "(211)", "x": 36.0, "y": 8.0}, {"label": "(401)", "x": 37.19, "y": 8.5}, {"label": "(002)", "x": 40.9, "y": 8.5}]},
        "mark": {"type": "text", "angle": 270, "align": "center", "baseline": "middle", "fontSize": 17, "fontWeight": "bold", "font": "Liberation Serif", "color": "black"},
        "encoding": {"x": {"field": "x", "type": "quantitative"}, "y": {"field": "y", "type": "quantitative"}, "text": {"field": "label"}}
      },
      {
        "data": {"values": [{"label": "γ", "x": 17.92, "y": 95.9}, {"label": "γ+β", "x": 21.84, "y": 96.9}, {"label": "α", "x": 27.59, "y": 91.9}, {"label": "β", "x": 35.79, "y": 90.9}, {"label": "γ", "x": 39.64, "y": 91.7}]},
        "mark": {"type": "text", "fontSize": 19, "font": "Liberation Serif", "color": "black"},
        "encoding": {"x": {"field": "x", "type": "quantitative"}, "y": {"field": "y", "type": "quantitative"}, "text": {"field": "label"}}
      },
      {
        "data": {"values": [{"label": "(b)", "x": 13.15, "y": 93.7}]},
        "mark": {"type": "text", "fontSize": 24, "fontWeight": "bold", "font": "Liberation Serif", "color": "black"},
        "encoding": {"x": {"field": "x", "type": "quantitative"}, "y": {"field": "y", "type": "quantitative"}, "text": {"field": "label"}}
      },
      {
        "data": {"values": [{"series": "PVDF", "x": 31.93, "x2": 35.3, "y": 97}, {"series": "PVDF/Hy-V₂O₅(1%)", "x": 24.37, "x2": 27.59, "y": 74.3}, {"series": "PVDF/Hy-V₂O₅(3%)", "x": 24.09, "x2": 27.38, "y": 56.5}, {"series": "PVDF/Hy-V₂O₅(5%)", "x": 24.09, "x2": 27.45, "y": 38.9}, {"series": "V₂O₅", "x": 33.13, "x2": 36.49, "y": 19.3}]},
        "layer": [
          {"mark": {"type": "rule", "strokeWidth": 3},
           "encoding": {"x": {"field": "x", "type": "quantitative"}, "x2": {"field": "x2"}, "y": {"field": "y", "type": "quantitative"}, "color": {"field": "series", "type": "nominal", "legend": null}}},
          {"mark": {"type": "text", "align": "left", "dx": 6, "fontSize": 21, "fontWeight": "bold", "font": "Liberation Serif", "color": "black"},
           "encoding": {"x": {"field": "x2", "type": "quantitative"}, "y": {"field": "y", "type": "quantitative"}, "text": {"field": "series"}}}
        ]
      },
      {
        "data": {"values": [{"label": "V₂O₅", "x": 14.27, "y": 38.3}, {"label": "V₂O₅", "x": 24.37, "y": 31.7}, {"label": "V₂O₅", "x": 29.62, "y": 32.3}, {"label": "V₂O₅", "x": 34.53, "y": 32.0}]},
        "mark": {"type": "text", "fontSize": 20, "fontWeight": "bold", "font": "Liberation Serif", "color": "black"},
        "encoding": {"x": {"field": "x", "type": "quantitative"}, "y": {"field": "y", "type": "quantitative"}, "text": {"field": "label"}}
      },
      {
        "data": {"values": [{"arrow": 1, "x": 14.2, "y": 33.0, "x2": 14.98, "y2": 29.8}, {"arrow": 2, "x": 22.12, "y": 33.5, "x2": 20.86, "y2": 37.0}, {"arrow": 3, "x": 29.13, "y": 29.6, "x2": 26.82, "y2": 27.2}, {"arrow": 4, "x": 32.42, "y": 30.2, "x2": 31.09, "y2": 27.0}]},
        "layer": [
          {"mark": {"type": "rule", "color": "black", "strokeWidth": 1.5},
           "encoding": {"x": {"field": "x", "type": "quantitative"}, "y": {"field": "y", "type": "quantitative"}, "x2": {"field": "x2"}, "y2": {"field": "y2"}}},
          {"transform": [{"filter": "datum.arrow === 1"}], "mark": {"type": "point", "shape": "triangle", "filled": true, "color": "black", "size": 70, "angle": 147, "opacity": 1},
           "encoding": {"x": {"field": "x2", "type": "quantitative"}, "y": {"field": "y2", "type": "quantitative"}}},
          {"transform": [{"filter": "datum.arrow === 2"}], "mark": {"type": "point", "shape": "triangle", "filled": true, "color": "black", "size": 70, "angle": 316, "opacity": 1},
           "encoding": {"x": {"field": "x2", "type": "quantitative"}, "y": {"field": "y2", "type": "quantitative"}}},
          {"transform": [{"filter": "datum.arrow === 3"}], "mark": {"type": "point", "shape": "triangle", "filled": true, "color": "black", "size": 70, "angle": 248, "opacity": 1},
           "encoding": {"x": {"field": "x2", "type": "quantitative"}, "y": {"field": "y2", "type": "quantitative"}}},
          {"transform": [{"filter": "datum.arrow === 4"}], "mark": {"type": "point", "shape": "triangle", "filled": true, "color": "black", "size": 70, "angle": 228, "opacity": 1},
           "encoding": {"x": {"field": "x2", "type": "quantitative"}, "y": {"field": "y2", "type": "quantitative"}}}
        ]
      }
    ]
  }
]
}
